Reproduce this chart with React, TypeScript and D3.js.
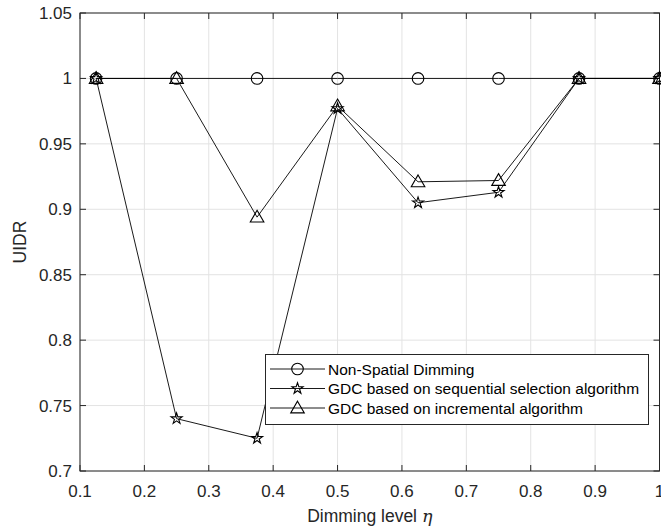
import React, { useEffect, useRef } from "react";
import * as d3 from "d3";

const dimming = [0.125, 0.25, 0.375, 0.5, 0.625, 0.75, 0.875, 1];
const nonSpatial = [1, 1, 1, 1, 1, 1, 1, 1];
const sequential = [1, 0.74, 0.725, 0.977, 0.905, 0.913, 1, 1];
const incremental = [1, 1, 0.894, 0.979, 0.921, 0.922, 1, 1];
const xTicks = [0.1, 0.2, 0.3, 0.4, 0.5, 0.6, 0.7, 0.8, 0.9, 1];
const yTicks = [0.7, 0.75, 0.8, 0.85, 0.9, 0.95, 1, 1.05];
const seriesNames = [
  "Non-Spatial Dimming",
  "GDC based on sequential selection algorithm",
  "GDC based on incremental algorithm",
];

const W = 661;
const H = 529;
const margin = { left: 80, top: 13, right: 1, bottom: 58 };
const font = "'Liberation Sans', Arial, Helvetica, sans-serif";

const App = () => {
  const svgRef = useRef<SVGSVGElement>(null);

  useEffect(() => {
    const svg = d3.select(svgRef.current);
    svg.selectAll("*").remove();

    const x = d3.scaleLinear().domain([0.1, 1]).range([margin.left, W - margin.right - 0.5]);
    const y = d3.scaleLinear().domain([0.7, 1.05]).range([H - margin.bottom, margin.top]);
    const axisColor = "#262626";

    // grid
    const grid = svg.append("g").attr("stroke", "#e3e3e3").attr("stroke-width", 1);
    xTicks.forEach((t) => {
      grid.append("line").attr("x1", x(t)).attr("x2", x(t)).attr("y1", y(0.7)).attr("y2", y(1.05));
    });
    yTicks.forEach((t) => {
      grid.append("line").attr("x1", x(0.1)).attr("x2", x(1)).attr("y1", y(t)).attr("y2", y(t));
    });

    // box + ticks
    const ax = svg.append("g").attr("stroke", axisColor).attr("stroke-width", 1);
    ax.append("rect")
      .attr("x", x(0.1))
      .attr("y", y(1.05))
      .attr("width", x(1) - x(0.1))
      .attr("height", y(0.7) - y(1.05))
      .attr("fill", "none");
    const tl = 6;
    xTicks.forEach((t) => {
      ax.append("line").attr("x1", x(t)).attr("x2", x(t)).attr("y1", y(0.7)).attr("y2", y(0.7) - tl);
      ax.append("line").attr("x1", x(t)).attr("x2", x(t)).attr("y1", y(1.05)).attr("y2", y(1.05) + tl);
    });
    yTicks.forEach((t) => {
      ax.append("line").attr("x1", x(0.1)).attr("x2", x(0.1) + tl).attr("y1", y(t)).attr("y2", y(t));
      ax.append("line").attr("x1", x(1)).attr("x2", x(1) - tl).attr("y1", y(t)).attr("y2", y(t));
    });

    const labels = svg.append("g").attr("font-family", font).attr("font-size", 17).attr("fill", axisColor);
    xTicks.forEach((t) => {
      labels.append("text").attr("x", x(t)).attr("y", y(0.7) + 26).attr("text-anchor", "middle").text(String(t));
    });
    yTicks.forEach((t) => {
      labels.append("text").attr("x", x(0.1) - 8).attr("y", y(t) + 6).attr("text-anchor", "end").text(String(t));
    });

    // axis titles
    const xl = labels.append("text").attr("x", (x(0.1) + x(1)) / 2).attr("y", 522).attr("text-anchor", "middle").attr("font-size", 17.5);
    xl.append("tspan").text("Dimming level ");
    xl.append("tspan").attr("font-style", "italic").attr("font-family", "'DejaVu Serif', serif").text("η");
    labels.append("text")
      .attr("transform", `translate(25.5,${(y(0.7) + y(1.05)) / 2}) rotate(-90)`)
      .attr("text-anchor", "middle")
      .attr("font-size", 17.5)
      .text("UIDR");

    const line = d3
      .line<number>()
      .x((_, i) => x(dimming[i]))
      .y((d) => y(d));

    const symbols = [
      d3.symbol().type(d3.symbolCircle).size(105),
      d3.symbol().type(d3.symbolStar).size(38),
      d3.symbol().type(d3.symbolTriangle).size(80),
    ];
    const data = [nonSpatial, sequential, incremental];
    const plot = svg.append("g");
    data.forEach((s) => {
      plot.append("path").datum(s).attr("d", line).attr("fill", "none").attr("stroke", "#000").attr("stroke-width", 0.9);
    });
    data.forEach((s, k) => {
      plot
        .selectAll(null)
        .data(s)
        .enter()
        .append("path")
        .attr("d", symbols[k]() as string)
        .attr("transform", (d, i) => `translate(${x(dimming[i])},${y(d) + (k === 2 ? 1 : 0)})`)
        .attr("fill", "none")
        .attr("stroke", "#000")
        .attr("stroke-width", 1.1);
    });

    // legend
    const lg = svg.append("g");
    lg.append("rect")
      .attr("x", 265.5)
      .attr("y", 354.5)
      .attr("width", 383)
      .attr("height", 70)
      .attr("fill", "#fff")
      .attr("stroke", axisColor)
      .attr("stroke-width", 1);
    seriesNames.forEach((name, k) => {
      const cy = 369 + k * 19.5;
      lg.append("line").attr("x1", 270).attr("x2", 325).attr("y1", cy).attr("y2", cy).attr("stroke", "#000").attr("stroke-width", 0.9);
      lg.append("path")
        .attr("d", symbols[k]() as string)
        .attr("transform", `translate(297.5,${cy + (k === 2 ? 1 : 0)})`)
        .attr("fill", "none")
        .attr("stroke", "#000")
        .attr("stroke-width", 1.1);
      lg.append("text")
        .attr("x", 328)
        .attr("y", cy + 5.5)
        .attr("font-family", font)
        .attr("font-size", 15.5)
        .attr("fill", "#000")
        .text(name);
    });
  }, []);

  return (
    <svg
      ref={svgRef}
      width={W}
      height={H}
      style={{ position: "absolute", left: 0, top: 0, background: "#fff" }}
    />
  );
};

export default App;
